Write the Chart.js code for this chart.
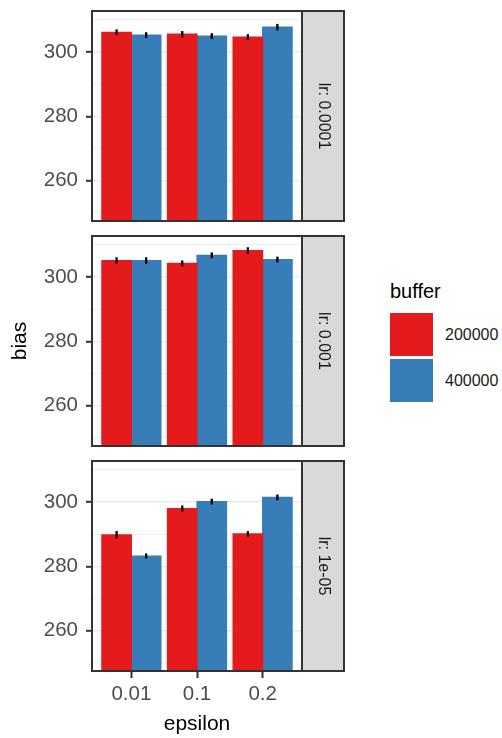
<!DOCTYPE html>
<html>
<head>
<meta charset="utf-8">
<script src="https://cdn.jsdelivr.net/npm/chart.js@4.4.1/dist/chart.umd.min.js"></script>
<style>
  body { margin: 0; background: #fff; font-family: "Liberation Sans", Arial, sans-serif; }
  #lienzo { position: relative; width: 502px; height: 738px; }
  #lienzo canvas { position: absolute; left: 0; }
  .txt { position: absolute; line-height: 1; white-space: nowrap; }
  .clave { position: absolute; width: 43px; height: 43px; }
</style>
</head>
<body>
<div id="lienzo">
  <canvas id="panel0" width="350" height="225" style="top:0px"></canvas>
  <canvas id="panel1" width="350" height="225" style="top:225px"></canvas>
  <canvas id="panel2" width="350" height="288" style="top:450px"></canvas>
  <div id="leyenda"></div>
</div>
<script>
// Datos
const categorias = ['0.01', '0.1', '0.2'];           // epsilon
const facetas = ['lr: 0.0001', 'lr: 0.001', 'lr: 1e-05'];
const buffers = ['200000', '400000'];
const colores = ['#E41A1C', '#377EB8'];

// Media de bias por faceta (lr) y buffer
const bias_lr1e4_200k = [306.1, 305.5, 304.6];
const bias_lr1e4_400k = [305.2, 304.9, 307.7];
const bias_lr1e3_200k = [305.1, 304.2, 308.2];
const bias_lr1e3_400k = [305.1, 306.7, 305.4];
const bias_lr1e5_200k = [289.8, 297.9, 290.1];
const bias_lr1e5_400k = [283.2, 300.1, 301.4];

// Error (semiamplitud de la barra de error)
const err_lr1e4_200k = [0.9, 1.0, 0.9];
const err_lr1e4_400k = [0.9, 0.9, 1.0];
const err_lr1e3_200k = [1.0, 0.9, 1.0];
const err_lr1e3_400k = [1.0, 0.9, 0.9];
const err_lr1e5_200k = [1.15, 1.0, 0.8];
const err_lr1e5_400k = [0.8, 0.9, 0.9];

// Eje y
const yTicks = [250, 260, 270, 280, 290, 300, 310];
const yMarcadas = [260, 280, 300];
const yMin = 247.5;
const yMax = 312.7;

Chart.defaults.font.family = '"Liberation Sans", Arial, sans-serif';

// Plugin: barras de error
const pluginErrores = {
    id: 'errores',
    afterDatasetsDraw(chart) {
        const ctx = chart.ctx;
        const y = chart.scales.y;
        ctx.save();
        ctx.strokeStyle = '#000';
        ctx.lineWidth = 2.3;
        chart.data.datasets.forEach((ds, d) => {
            const meta = chart.getDatasetMeta(d);
            meta.data.forEach((barra, i) => {
                const v = ds.data[i].y;
                const e = ds.errores[i];
                ctx.beginPath();
                ctx.moveTo(barra.x, y.getPixelForValue(v - e));
                ctx.lineTo(barra.x, y.getPixelForValue(v + e));
                ctx.stroke();
            });
        });
        ctx.restore();
    }
};

// Plugin: borde del panel y tira con la etiqueta de la faceta
const pluginPanel = {
    id: 'panel',
    afterDraw(chart, args, opts) {
        const { ctx, chartArea: a } = chart;
        const alto = a.bottom - a.top;
        ctx.save();
        ctx.fillStyle = '#D9D9D9';
        ctx.fillRect(a.right, a.top, 42, alto);
        ctx.strokeStyle = '#333333';
        ctx.lineWidth = 2;
        ctx.strokeRect(a.right, a.top, 42, alto);
        ctx.strokeRect(a.left, a.top, a.right - a.left, alto);
        ctx.translate(a.right + 21, a.top + alto / 2);
        ctx.rotate(Math.PI / 2);
        ctx.fillStyle = '#1A1A1A';
        ctx.font = '16px "Liberation Sans", Arial, sans-serif';
        ctx.textAlign = 'center';
        ctx.textBaseline = 'middle';
        ctx.fillText(opts.etiqueta, 0, 0);
        ctx.restore();
    }
};

function crearPanel(id, etiqueta, rojos, azules, errRojos, errAzules, conEjeX, conTituloY) {
    const ctx = document.getElementById(id).getContext('2d');
    const series = [rojos, azules];
    const errores = [errRojos, errAzules];
    new Chart(ctx, {
        type: 'bar',
        data: {
            datasets: series.map((s, k) => ({
                label: buffers[k],
                data: s.map((v, i) => ({ x: i + 1, y: v })),
                errores: errores[k],
                backgroundColor: colores[k],
                borderWidth: 0,
                inflateAmount: 0.6,
                categoryPercentage: 0.9,
                barPercentage: 1.0
            }))
        },
        options: {
            responsive: false,
            animation: false,
            layout: {
                padding: { top: 11, right: 48, bottom: conEjeX ? 0 : 4, left: 0 },
                autoPadding: false
            },
            plugins: {
                legend: { display: false },
                tooltip: { enabled: false },
                panel: { etiqueta: etiqueta }
            },
            scales: {
                x: {
                    type: 'linear',
                    min: 0.4,
                    max: 3.6,
                    offset: false,
                    display: conEjeX,
                    afterBuildTicks: s => { s.ticks = categorias.map((c, i) => ({ value: i + 1 })); },
                    afterFit: s => { s.height = conEjeX ? 67 : 0; s.paddingLeft = 0; s.paddingRight = 0; },
                    ticks: {
                        callback: (v, i) => categorias[i],
                        autoSkip: false,
                        maxRotation: 0,
                        padding: 4,
                        color: '#4D4D4D',
                        font: { size: 20.5 }
                    },
                    grid: {
                        offset: false,
                        drawOnChartArea: false,
                        tickLength: 7,
                        tickWidth: 2,
                        tickColor: '#333333'
                    },
                    border: { display: false },
                    title: {
                        display: true,
                        text: 'epsilon',
                        color: '#000',
                        font: { size: 21 },
                        padding: { top: 0, bottom: 1 }
                    }
                },
                y: {
                    min: yMin,
                    max: yMax,
                    afterBuildTicks: s => { s.ticks = yTicks.map(v => ({ value: v })); },
                    afterFit: s => { s.width = 92; s.paddingTop = 0; s.paddingBottom = 0; },
                    ticks: {
                        callback: v => yMarcadas.includes(v) ? String(v) : '',
                        autoSkip: false,
                        padding: 8,
                        color: '#4D4D4D',
                        font: { size: 20.5 }
                    },
                    grid: {
                        color: '#EBEBEB',
                        lineWidth: c => yMarcadas.includes(c.tick.value) ? 1.6 : 0.8,
                        tickLength: 6,
                        tickWidth: 2,
                        tickColor: c => yMarcadas.includes(c.tick.value) ? '#333333' : 'rgba(0,0,0,0)'
                    },
                    border: { display: false },
                    title: {
                        display: conTituloY,
                        text: 'bias',
                        color: '#000',
                        font: { size: 21 },
                        padding: { top: 8, bottom: 0 }
                    }
                }
            }
        },
        plugins: [pluginErrores, pluginPanel]
    });
}

crearPanel('panel0', facetas[0], bias_lr1e4_200k, bias_lr1e4_400k, err_lr1e4_200k, err_lr1e4_400k, false, false);
crearPanel('panel1', facetas[1], bias_lr1e3_200k, bias_lr1e3_400k, err_lr1e3_200k, err_lr1e3_400k, false, true);
crearPanel('panel2', facetas[2], bias_lr1e5_200k, bias_lr1e5_400k, err_lr1e5_200k, err_lr1e5_400k, true, false);

// Leyenda (buffer)
const leyenda = document.getElementById('leyenda');
let html = '<div class="txt" style="left:390px;top:281px;font-size:20px;color:#000">buffer</div>';
buffers.forEach((b, k) => {
    const arriba = 313 + k * 46;
    html += '<div class="clave" style="left:390px;top:' + arriba + 'px;background:' + colores[k] + '"></div>';
    html += '<div class="txt" style="left:445px;top:' + (arriba + 14) + 'px;font-size:16px;color:#1A1A1A">' + b + '</div>';
});
leyenda.innerHTML = html;
</script>
</body>
</html>
